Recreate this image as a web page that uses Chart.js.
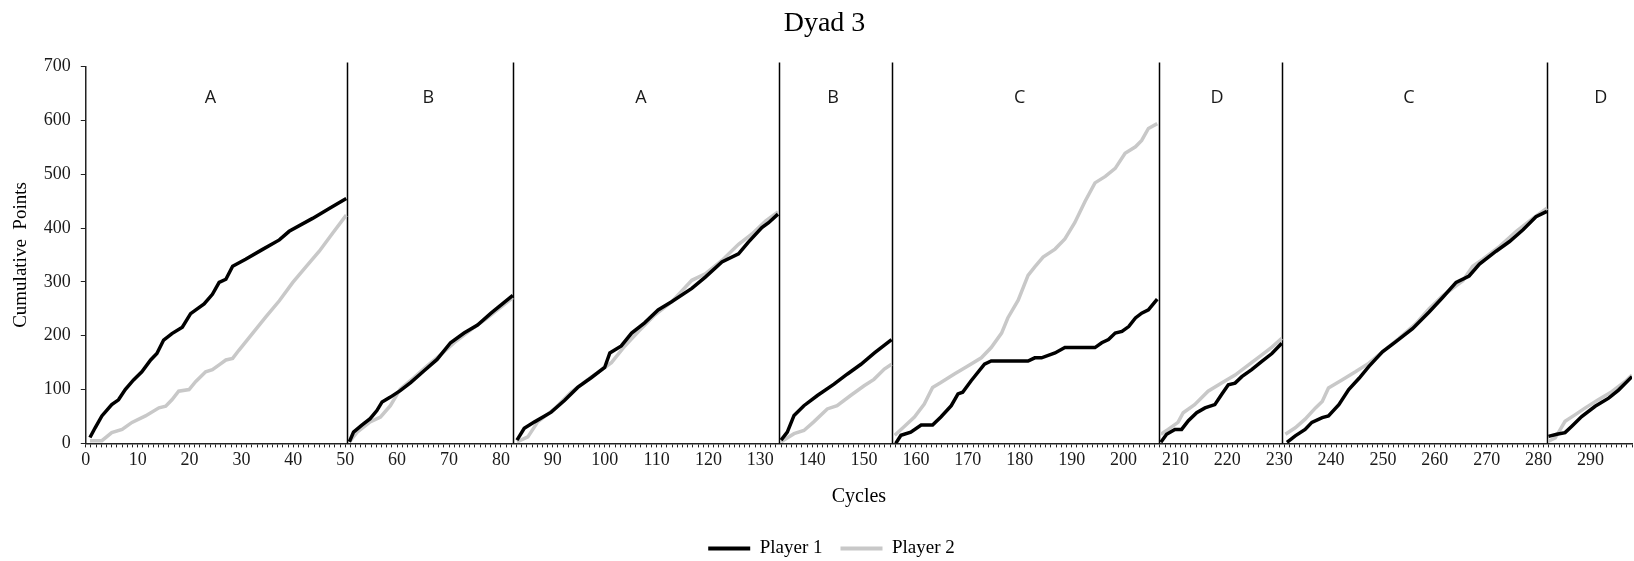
<!DOCTYPE html>
<html>
<head>
<meta charset="utf-8">
<title>Dyad 3</title>
<script src="https://cdn.jsdelivr.net/npm/chart.js@4.4.1/dist/chart.umd.min.js"></script>
<style>
    html, body { margin: 0; padding: 0; background: #fff; }
    #wrap { position: relative; width: 1634px; height: 561px; }
</style>
</head>
<body>
<div id="wrap"><canvas id="dyadChart"></canvas></div>
<script>
const SERIF = "'Liberation Serif', 'Times New Roman', serif";
const SANS = "'Open Sans', 'Liberation Sans', sans-serif";

// Phase blocks (condition letters) and where each block ends on the cycle axis
const phaseNames = ['A', 'B', 'A', 'B', 'C', 'D', 'C', 'D'];
const phaseLabelCycles = [24, 66, 107, 144, 180, 218, 255, 292];
const phaseBreaks = [50.3, 82.4, 133.6, 155.4, 206.8, 230.6, 281.7];
const phaseLabelLevel = 641;

const yTicks = [0, 100, 200, 300, 400, 500, 600, 700];

// Player 1 - cumulative points, null = start of a new block
const p1Cycles = [
    0.8, 1.8, 3.1, 5, 6.3, 7.6, 9.2, 10.8, 12.5, 13.7, 15, 16.6, 18.6, 20.2, 22.8, 24.4, 25.7, 27, 28.3, 30.8, 34, 37.3, 39.2, 43.7, 47, 50.2,
    50.3,
    50.8, 51.6, 53.2, 54.8, 56.1, 57.1, 58.7, 60.6, 62.6, 65.2, 67.7, 70.3, 72.9, 75.5, 78.1, 82.3,
    82.4,
    83.1, 84.5, 86.5, 89.7, 92.3, 94.8, 97.4, 100, 101, 103.2, 105.2, 107.7, 110.3, 112.9, 116.8, 119.4, 122.6, 125.8, 127.7, 130.3, 131.6, 133.4,
    133.6,
    134, 135.2, 136.5, 138.4, 141, 144.2, 146.8, 149.4, 152, 155.3,
    155.4,
    156.1, 157.1, 159, 161, 163.2, 164.8, 166.8, 168.1, 169, 170.6, 173.2, 174.5, 181.6, 182.9, 184.2, 186.8, 188.7, 194.5, 195.8, 197.1, 198.4, 199.7, 201, 202.3, 203.5, 204.8, 206.5,
    206.8,
    207.2, 208.3, 209.9, 211.2, 212.5, 214.1, 215.7, 217.6, 218.9, 220.2, 221.5, 222.8, 224.7, 226.6, 228.6, 230.5,
    230.6,
    231.5, 233.1, 235, 236.3, 238.3, 239.5, 241.5, 243.4, 245.4, 247.3, 249.9, 252.5, 255.7, 258.9, 261.5, 264.1, 266.6, 268.6, 271.8, 274.4, 277, 279.5, 281.6,
    281.7,
    281.9, 283.5, 285.1, 286.4, 288.3, 290.9, 293.5, 295.4, 298
];
const p1Points = [
    11, 29, 51, 72, 81, 100, 118, 133, 155, 167, 192, 204, 216, 241, 259, 277, 299, 305, 329, 342, 360, 378, 394, 418, 437, 455,
    null,
    3, 21, 34, 46, 61, 77, 86, 98, 113, 135, 156, 187, 205, 220, 242, 275,
    null,
    6, 28, 40, 58, 80, 104, 122, 141, 168, 181, 205, 224, 248, 263, 288, 309, 337, 352, 374, 401, 410, 426,
    null,
    6, 21, 52, 70, 89, 110, 129, 147, 168, 193,
    null,
    0, 15, 21, 34, 34, 49, 70, 92, 95, 116, 147, 153, 153, 159, 159, 168, 178, 178, 187, 193, 205, 208, 217, 233, 242, 248, 268,
    null,
    2, 17, 26, 26, 42, 57, 66, 72, 91, 109, 112, 124, 137, 152, 167, 186,
    null,
    2, 14, 26, 39, 48, 51, 72, 100, 121, 143, 170, 189, 213, 244, 271, 299, 311, 333, 357, 375, 397, 421, 431,
    null,
    13, 17, 20, 32, 50, 69, 84, 99, 124
];

// Player 2 - cumulative points
const p2Cycles = [
    0.8, 3.1, 5, 7, 8.9, 11.5, 14.1, 15.4, 16.6, 17.9, 19.9, 21.2, 23.1, 24.4, 25.7, 27, 28.3, 29.5, 32.1, 34.7, 37.3, 39.9, 42.5, 45, 47.6, 50.2,
    50.3,
    50.8, 52.3, 54.8, 56.8, 58.7, 60.6, 63.2, 65.8, 68.4, 71, 74.2, 77.4, 82.3,
    82.4,
    83.1, 85.2, 87.1, 90.3, 93.5, 96.8, 100, 101.3, 103.9, 106.5, 109.7, 112.9, 116.8, 119.4, 122.6, 125.8, 128.4, 131, 133.4,
    133.6,
    134, 136.5, 138.4, 140.3, 142.9, 144.8, 147.4, 150, 151.9, 153.9, 155.3,
    155.4,
    155.9, 157.7, 159.7, 161.6, 163.2, 164.8, 167.4, 170, 172.6, 174.5, 176.5, 177.7, 179.7, 181.6, 182.9, 184.5, 186.8, 188.7, 190.6, 192.6, 194.5, 196.5, 198.4, 200.3, 202.3, 203.5, 204.8, 206.5,
    206.8,
    207.2, 208.6, 210.5, 211.5, 213.7, 216.3, 218.9, 221.5, 224.1, 226.6, 228.6, 230.5,
    230.6,
    231.2, 233.1, 235, 237, 238.3, 239.5, 242.1, 244.7, 247.3, 249.9, 253.1, 256.3, 258.9, 261.5, 265.4, 267.3, 269.2, 272.5, 275.7, 278.9, 281.6,
    281.7,
    281.9, 283.2, 285.1, 287, 289, 291.5, 294.1, 296.7, 298
];
const p2Points = [
    5, 5, 20, 26, 39, 51, 66, 69, 81, 97, 100, 115, 133, 137, 146, 155, 158, 173, 204, 235, 265, 299, 329, 357, 391, 424,
    null,
    3, 21, 40, 49, 70, 101, 122, 144, 165, 187, 211, 233, 271,
    null,
    3, 12, 40, 64, 95, 119, 141, 150, 181, 208, 239, 263, 303, 315, 340, 370, 389, 413, 430,
    null,
    3, 18, 24, 40, 64, 70, 89, 107, 119, 138, 147,
    null,
    15, 31, 49, 73, 104, 113, 129, 144, 159, 178, 205, 233, 266, 312, 328, 346, 361, 380, 410, 450, 484, 496, 511, 539, 551, 563, 585, 594,
    null,
    17, 26, 39, 57, 72, 97, 112, 127, 146, 164, 179, 195,
    null,
    17, 29, 45, 66, 78, 103, 118, 133, 149, 170, 195, 222, 250, 274, 302, 329, 342, 366, 394, 418, 437,
    null,
    4, 10, 41, 53, 66, 81, 96, 115, 127
];

function toXY(cycles, points) {
    return cycles.map((c, i) => ({ x: c, y: points[i] }));
}

// Vertical block separators and block letters
const phasePlugin = {
    id: 'phases',
    afterLayout(chart) {
        // title and legend sit a little right of the canvas centre in the original
        if (chart.titleBlock) { chart.titleBlock.left += 5; chart.titleBlock.right += 5; }
        if (chart.legend) { chart.legend.left += 12; chart.legend.right += 12; }
    },
    beforeDatasetsDraw(chart) {
        const { ctx, chartArea, scales } = chart;
        ctx.save();
        ctx.strokeStyle = '#000';
        ctx.lineWidth = 1.5;
        phaseBreaks.forEach(b => {
            const x = Math.round(scales.x.getPixelForValue(b)) + 0.5;
            ctx.beginPath();
            ctx.moveTo(x, chartArea.top - 4);
            ctx.lineTo(x, chartArea.bottom);
            ctx.stroke();
        });
        ctx.fillStyle = '#1a1a1a';
        ctx.font = '18px ' + SANS;
        ctx.textAlign = 'center';
        ctx.textBaseline = 'middle';
        phaseNames.forEach((name, i) => {
            ctx.fillText(name, scales.x.getPixelForValue(phaseLabelCycles[i]), scales.y.getPixelForValue(phaseLabelLevel));
        });
        ctx.restore();
    }
};

const ctx = document.getElementById('dyadChart').getContext('2d');
const chart = new Chart(ctx, {
    type: 'line',
    data: {
        datasets: [{
            label: 'Player 1',
            data: toXY(p1Cycles, p1Points),
            borderColor: '#000000',
            backgroundColor: '#000000',
            borderWidth: 3.5,
            pointRadius: 0,
            tension: 0,
            spanGaps: false
        }, {
            label: 'Player 2',
            data: toXY(p2Cycles, p2Points),
            borderColor: '#c8c8c8',
            backgroundColor: '#c8c8c8',
            borderWidth: 3.5,
            pointRadius: 0,
            tension: 0,
            spanGaps: false
        }]
    },
    options: {
        responsive: true,
        maintainAspectRatio: false,
        animation: false,
        layout: { padding: { left: 5, right: 0, top: 0, bottom: -7 } },
        plugins: {
            title: {
                display: true,
                text: 'Dyad 3',
                color: '#000',
                font: { family: SERIF, size: 28, weight: 'normal' },
                padding: { top: 7, bottom: 26 }
            },
            legend: {
                position: 'bottom',
                labels: {
                    boxWidth: 42,
                    boxHeight: 4,
                    padding: 18,
                    color: '#000',
                    font: { family: SERIF, size: 19 },
                    generateLabels: (c) => c.data.datasets.map((ds, i) => ({
                        text: ds.label,
                        fillStyle: ds.borderColor,
                        strokeStyle: ds.borderColor,
                        lineWidth: 0,
                        hidden: false,
                        datasetIndex: i
                    }))
                }
            },
            tooltip: { enabled: false }
        },
        scales: {
            x: {
                type: 'linear',
                min: 0,
                max: 298,
                border: { display: true, color: '#222', width: 1.5 },
                grid: { display: true, drawOnChartArea: false, drawTicks: true, tickLength: 4, color: '#222' },
                ticks: {
                    stepSize: 1,
                    autoSkip: false,
                    maxRotation: 0,
                    padding: 2,
                    color: '#1a1a1a',
                    font: { family: SERIF, size: 18 },
                    callback: (v) => (Math.round(v) % 10 === 0 ? String(Math.round(v)) : '')
                },
                title: {
                    display: true,
                    text: 'Cycles',
                    color: '#000',
                    font: { family: SERIF, size: 20 },
                    padding: { top: 12, bottom: 12 }
                }
            },
            y: {
                min: 0,
                max: 700,
                border: { display: true, color: '#222', width: 1.5 },
                grid: { display: true, drawOnChartArea: false, drawTicks: true, tickLength: 5, color: '#222' },
                afterBuildTicks: (axis) => { axis.ticks = yTicks.map(v => ({ value: v })); },
                ticks: {
                    padding: 10,
                    color: '#1a1a1a',
                    font: { family: SERIF, size: 18 }
                },
                title: {
                    display: true,
                    text: 'Cumulative  Points',
                    color: '#000',
                    font: { family: SERIF, size: 19 },
                    padding: { top: 5, bottom: 1 }
                }
            }
        }
    },
    plugins: [phasePlugin]
});
</script>
</body>
</html>
